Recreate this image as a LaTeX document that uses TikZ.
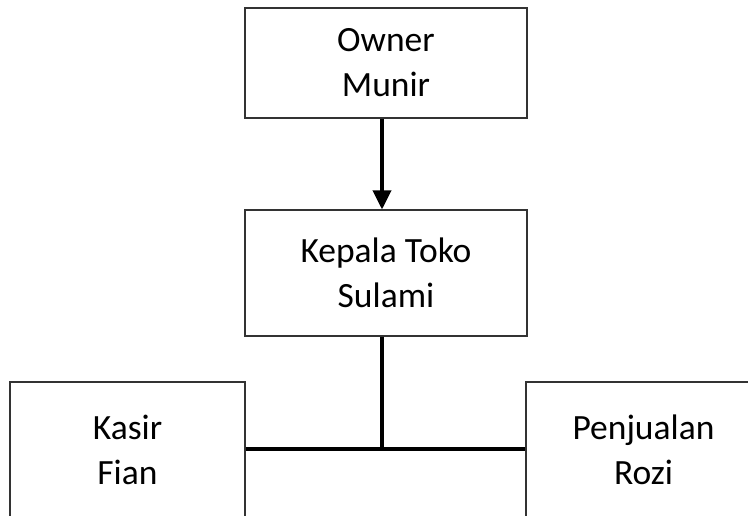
\documentclass[tikz,border=0pt]{standalone}
\usepackage{fontspec}
\setmainfont{Carlito}
\usetikzlibrary{arrows.meta}

\begin{document}
\begin{tikzpicture}[x=1pt,y=-1pt]
            \clip (0,0) rectangle (748,516);
            \tikzstyle{box}=[rectangle,draw=black!80,line width=1.1pt,inner sep=0pt,align=center,font=\fontsize{35.5}{45}\selectfont]
            \tikzstyle{top}=[box,minimum width=282pt,minimum height=110pt]     % pimpinan
            \tikzstyle{mid}=[box,minimum width=282pt,minimum height=126pt]
            \tikzstyle{staff}=[box,minimum width=235pt,minimum height=136pt]   % bawahan

            \tikzstyle{link}=[line width=3.6pt,draw=black]

            \node[top]   (owner)     at (386,63)  {Owner\\Munir};
            \node[mid]   (kepala)    at (386,273) {Kepala Toko\\Sulami};
            \node[staff] (kasir)     at (127.5,450) {Kasir\\Fian};
            \node[staff] (penjualan) at (643.5,450) {Penjualan\\Rozi};

            \draw[link,-{Triangle[length=19pt,width=18pt]}] ([xshift=-4pt]owner.south) -- ([xshift=-4pt]kepala.north);
            \draw[link] ([xshift=-4pt]kepala.south) -- ([xshift=-4pt,yshift=1pt]kepala.south |- kasir.east);
            \draw[link] ([yshift=1pt]kasir.east) -- ([yshift=1pt]penjualan.west);
\end{tikzpicture}
\end{document}
